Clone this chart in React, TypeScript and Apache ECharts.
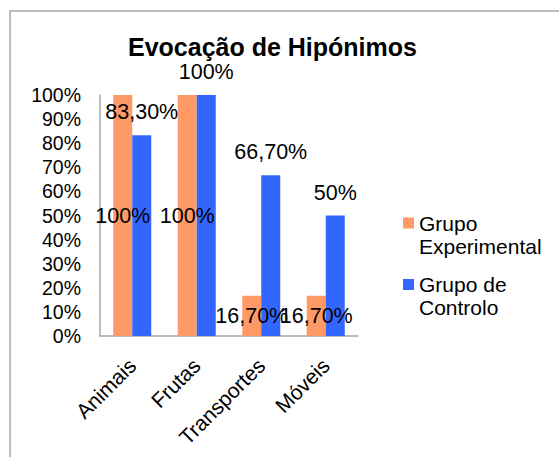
import React, { useEffect, useRef } from "react";
import * as echarts from "echarts";

const categories = ["Animais", "Frutas", "Transportes", "Móveis"];
const seriesNames = ["Grupo\nExperimental", "Grupo de\nControlo"];
const experimental = [1, 1, 0.167, 0.167];
const controlo = [0.833, 1, 0.667, 0.5];
const titleText = "Evocação de Hipónimos";

const FONT = "'Liberation Sans', Arial, sans-serif";

function pct(v: number): string {
  const p = Math.round(v * 1000) / 10;
  if (Number.isInteger(p)) return `${p}%`;
  return `${p.toFixed(2).replace(".", ",")}%`;
}

function legendFor(name: string, top: number) {
  return {
    data: [name],
    orient: "vertical",
    left: 403,
    top,
    padding: 0,
    icon: "rect",
    itemWidth: 11,
    itemHeight: 11,
    itemGap: 0,
    formatter: (n: string) => "\n" + n,
    textStyle: { fontFamily: FONT, fontSize: 21, lineHeight: 23, color: "#000" },
  };
}

export default function App() {
  const ref = useRef<HTMLDivElement>(null);
  useEffect(() => {
    if (!ref.current) return;
    const chart = echarts.init(ref.current, undefined, { renderer: "svg" });
    chart.setOption({
      animation: false,
      backgroundColor: "#ffffff",
      textStyle: { fontFamily: FONT },
      title: {
        text: titleText,
        left: 128,
        top: 34,
        padding: 0,
        textStyle: { fontFamily: FONT, fontSize: 25, fontWeight: "bold", color: "#000" },
      },
      graphic: [
        {
          type: "rect",
          shape: { x: 10, y: 11, width: 560, height: 460 },
          style: { fill: "none", stroke: "#A6A6A6", lineWidth: 1.5 },
          silent: true,
          z: -1,
        },
      ],
      legend: [legendFor(seriesNames[0], 188.5), legendFor(seriesNames[1], 250)],
      grid: { left: 100, top: 95, width: 258, height: 241, containLabel: false },
      xAxis: {
        type: "category",
        data: categories,
        axisLine: { show: true, lineStyle: { color: "#A6A6A6", width: 1.5 } },
        axisTick: { show: false },
        axisLabel: { rotate: 45, fontSize: 21, color: "#000", fontFamily: FONT, margin: 26, interval: 0 },
      },
      yAxis: {
        type: "value",
        min: 0,
        max: 1,
        interval: 0.1,
        axisLine: { show: true, lineStyle: { color: "#A6A6A6", width: 1.5 } },
        axisTick: { show: false },
        splitLine: { show: false },
        axisLabel: { fontSize: 19.5, color: "#000", fontFamily: FONT, margin: 19, formatter: (v: number) => pct(v) },
      },
      series: [
        {
          name: seriesNames[0],
          type: "bar",
          data: experimental,
          barWidth: 19,
          barGap: "0%",
          itemStyle: { color: "#FF9966" },
          label: {
            show: true,
            position: "inside",
            fontSize: 21.5,
            color: "#000",
            fontFamily: FONT,
            formatter: (p: any) => pct(p.value),
          },
        },
        {
          name: seriesNames[1],
          type: "bar",
          data: controlo,
          barWidth: 19,
          barGap: "0%",
          itemStyle: { color: "#3366FF" },
          label: {
            show: true,
            position: "top",
            distance: 12,
            fontSize: 21.5,
            color: "#000",
            fontFamily: FONT,
            formatter: (p: any) => pct(p.value),
          },
        },
      ],
    });
    return () => chart.dispose();
  }, []);
  return (
    <div
      ref={ref}
      style={{ position: "fixed", left: 0, top: 0, width: 559, height: 457 }}
    />
  );
}
